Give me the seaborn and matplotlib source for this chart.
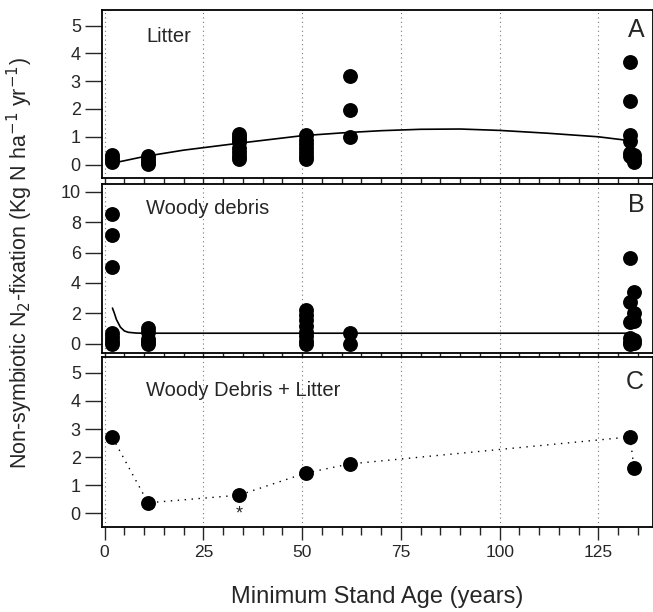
import matplotlib
matplotlib.use("Agg")
import matplotlib.pyplot as plt
from matplotlib.ticker import MultipleLocator
import numpy as np
import pandas as pd
import seaborn as sns

# stand age of each sample (years) and fixation rates
litter_age = [2, 2, 2, 2, 11, 11, 11, 11,
              34, 34, 34, 34, 34, 34, 34, 34,
              51, 51, 51, 51, 51, 51, 51,
              62, 62, 62,
              133, 133, 133, 133, 133, 133, 134, 134, 134]
litter_fix = [0.35, 0.25, 0.15, 0.1, 0.3, 0.2, 0.1, 0.02,
              1.1, 1.0, 0.9, 0.8, 0.6, 0.45, 0.3, 0.2,
              1.05, 0.9, 0.75, 0.6, 0.45, 0.3, 0.2,
              3.2, 1.96, 0.98,
              3.7, 2.3, 1.05, 0.85, 0.4, 0.3, 0.35, 0.2, 0.1]
litter_fit_age = [2, 10, 20, 34, 50, 60, 70, 80, 90, 100, 112, 125, 133]
litter_fit = [0.05, 0.29, 0.52, 0.77, 1.04, 1.14, 1.22, 1.27, 1.28, 1.23, 1.13, 1.0, 0.86]

woody_age = [2, 2, 2, 2, 2, 2, 2,
             11, 11, 11, 11, 11,
             51, 51, 51, 51, 51, 51, 51, 51,
             62, 62,
             133, 133, 133, 133, 133, 133, 134, 134, 134, 134, 134]
woody_fix = [8.5, 7.15, 5.05, 0.7, 0.45, 0.2, 0.0,
             1.05, 0.8, 0.3, 0.1, 0.0,
             2.2, 1.9, 1.6, 1.2, 0.8, 0.5, 0.2, 0.0,
             0.7, 0.0,
             5.63, 2.78, 1.46, 0.4, 0.15, 0.0, 3.43, 2.03, 1.5, 0.25, 0.05]
woody_fit_age = [2, 2.5, 3, 3.5, 4, 5, 6, 8, 10, 133]
woody_fit = [2.35, 2.0, 1.6, 1.35, 1.1, 0.85, 0.76, 0.71, 0.7, 0.7]

total_age = [2, 11, 34, 51, 62, 133, 134]
total_fix = [2.7, 0.38, 0.65, 1.44, 1.76, 2.72, 1.6]

sns.set_style("ticks")
plt.rcParams['font.family'] = ['Liberation Sans', 'DejaVu Sans']

fig = plt.figure(figsize=(6.53, 6.12), dpi=100)
axA = fig.add_axes([0.1557, 0.7092, 0.8443, 0.2745])
axB = fig.add_axes([0.1557, 0.4232, 0.8443, 0.2761])
axC = fig.add_axes([0.1557, 0.1389, 0.8443, 0.2778])

dot = dict(color="black", s=115, edgecolor="black", linewidth=0, zorder=3)

sns.scatterplot(x=litter_age, y=litter_fix, ax=axA, **dot)
sns.lineplot(x=litter_fit_age, y=litter_fit, ax=axA, color="black", lw=1.2)

sns.scatterplot(x=woody_age, y=woody_fix, ax=axB, **dot)
sns.lineplot(x=woody_fit_age, y=woody_fit, ax=axB, color="black", lw=1.2)

axC.plot(total_age, total_fix, color="black", ls=(0, (1, 4)), lw=1.0)
sns.scatterplot(x=total_age, y=total_fix, ax=axC, **dot)
axC.annotate("*", (total_age[2], total_fix[2]), xytext=(0, -13.5),
             textcoords="offset points", ha="center", va="center", fontsize=13)

panels = [(axA, "Litter", "A", (-0.48, 5.56), 1, 0.84, 0.88),
          (axB, "Woody debris", "B", (-0.6, 10.5), 2, 0.856, 0.876),
          (axC, "Woody Debris + Litter", "C", (-0.48, 5.56), 1, 0.80, 0.853)]
for ax, name, letter, ylim, step, ny, ly in panels:
    ax.set_xlim(-0.73, 138.8)
    ax.set_ylim(*ylim)
    ax.xaxis.set_major_locator(MultipleLocator(25))
    ax.xaxis.set_minor_locator(MultipleLocator(5))
    ax.yaxis.set_major_locator(MultipleLocator(step))
    ax.grid(axis="x", color="#777777", ls=(0, (1, 3)), lw=0.8)
    for s in ax.spines.values():
        s.set_linewidth(1.3)
        s.set_color("black")
    ax.tick_params(axis="y", direction="out", length=12, width=1, labelsize=13, pad=3)
    ax.tick_params(axis="x", which="major", direction="out", length=6, width=1)
    ax.tick_params(axis="x", which="minor", direction="out", length=4, width=1)
    ax.text(0.081, ny, name, transform=ax.transAxes, fontsize=14.5, va="center")
    ax.text(0.984, ly, letter, transform=ax.transAxes, fontsize=18,
            ha="right", va="center")
    ax.set_xlabel("")
    ax.set_ylabel("")

axA.tick_params(axis="x", labelbottom=False)
axB.tick_params(axis="x", labelbottom=False)
axC.tick_params(axis="x", which="major", length=9, labelsize=12.5, pad=4)
axC.tick_params(axis="x", which="minor", length=6)
axC.set_xlabel("Minimum Stand Age (years)", fontsize=17, labelpad=19)

fig.text(0.03, 0.57, "Non-symbiotic N$_2$-fixation (Kg N ha$^{-1}$ yr$^{-1}$)",
         rotation=90, ha="center", va="center", fontsize=15.5)

fig.savefig("out.png", dpi=100)
